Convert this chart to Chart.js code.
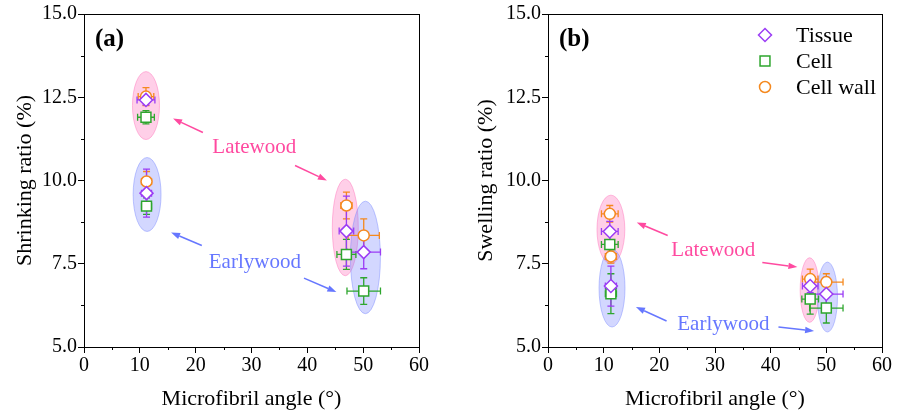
<!DOCTYPE html>
<html>
<head>
<meta charset="utf-8">
<script src="https://cdn.jsdelivr.net/npm/chart.js@4.4.0/dist/chart.umd.min.js"></script>
<style>
  html, body { margin: 0; padding: 0; background: #fff; }
  #wrap { position: relative; width: 899px; height: 415px; }
  #panelA { position: absolute; left: 0; top: 0; }
  #panelB { position: absolute; left: 449px; top: 0; }
</style>
</head>
<body>
<div id="wrap">
  <canvas id="panelA" width="449" height="415"></canvas>
  <canvas id="panelB" width="450" height="415"></canvas>
</div>
<script>
// groups: latewood / earlywood at low MFA, latewood / earlywood at high MFA
var groups = ["Latewood", "Earlywood", "Latewood", "Earlywood"];

// (a) shrinking ratio
var mfaA = [11.1, 11.2, 47.0, 50.1];
var tissueA = [12.42, 9.62, 8.48, 7.85];
var cellA = [11.9, 9.23, 7.78, 6.68];
var wallA = [12.52, 9.97, 9.25, 8.35];
var tissueAxErr = [1.6, 0.9, 1.3, 3.0];
var tissueAyErr = [0.15, 0.72, 1.05, 0.5];
var cellAxErr = [1.5, 0.9, 1.7, 3.0];
var cellAyErr = [0.2, 0.25, 0.45, 0.4];
var wallAxErr = [1.4, 0.9, 1.0, 2.8];
var wallAyErr = [0.27, 0.3, 0.4, 0.5];

// (b) swelling ratio
var mfaB = [11.1, 11.3, 47.1, 50.0];
var tissueB = [8.47, 6.83, 6.83, 6.59];
var cellB = [8.08, 6.6, 6.44, 6.17];
var wallB = [9.0, 7.72, 7.04, 6.95];
var tissueBxErr = [1.5, 1.0, 1.4, 3.0];
var tissueByErr = [0.3, 0.6, 0.2, 0.5];
var cellBxErr = [1.5, 1.0, 1.5, 3.0];
var cellByErr = [0.3, 0.6, 0.45, 0.45];
var wallBxErr = [1.5, 1.0, 1.4, 3.0];
var wallByErr = [0.25, 0.2, 0.3, 0.25];

var xTicks = [0, 10, 20, 30, 40, 50, 60];
var yTicks = [5.0, 7.5, 10.0, 12.5, 15.0];

var FONT = "'Liberation Serif', 'Times New Roman', serif";
var C_TISSUE = "#9b3cf5", C_CELL = "#2ea62e", C_WALL = "#f5891f";
var PINK = "#ff4aa0", BLUE = "#6677ff";

// ellipse groups in data units: [x, y, rx, ry]
var ellipsesA = [[11.1, 12.25, 2.42, 1.02], [11.3, 9.58, 2.5, 1.11], [46.8, 8.59, 2.33, 1.45], [50.4, 7.69, 2.69, 1.69]];
var ellipsesB = [[11.3, 8.53, 2.5, 1.03], [11.5, 6.77, 2.33, 1.17], [47.0, 6.71, 1.7, 0.97], [50.2, 6.50, 1.8, 1.05]];

// annotation arrows [x0, y0, x1, y1] (head at x1, y1) and label anchors
var arrowsA = {
  Latewood: [[21.3, 11.44, 15.95, 11.86], [37.8, 10.45, 43.5, 10.0]],
  Earlywood: [[21.1, 8.05, 15.6, 8.44], [39.4, 7.07, 45.2, 6.65]]
};
var labelsA = { Latewood: [30.5, 10.99], Earlywood: [30.6, 7.54] };
var arrowsB = {
  Latewood: [[21.5, 8.35, 15.95, 8.74], [38.5, 7.54, 44.8, 7.40]],
  Earlywood: [[21.3, 5.78, 15.8, 6.20], [41.4, 5.60, 47.8, 5.48]]
};
var labelsB = { Latewood: [29.7, 7.90], Earlywood: [31.5, 5.69] };

function points(xs, ys, xe, ye) {
  return xs.map(function (x, i) {
    return { x: x, y: ys[i], xErr: xe[i], yErr: ye[i] };
  });
}

function dataset(label, color, style, radius, pts) {
  return {
    label: label,
    data: pts,
    pointStyle: style,
    pointRadius: radius,
    pointHoverRadius: radius,
    pointBorderWidth: 1.5,
    borderColor: color,
    pointBorderColor: color,
    pointBackgroundColor: "#fff",
    backgroundColor: "#fff",
    showLine: false
  };
}

function groupColor(name, alpha) {
  return name === "Latewood" ? "rgba(255,110,185," + alpha + ")" : "rgba(120,135,255," + alpha + ")";
}

function drawArrow(ctx, x0, y0, x1, y1, color) {
  var a = Math.atan2(y1 - y0, x1 - x0), L = 9, W = 3.2;
  var bx = x1 - L * Math.cos(a), by = y1 - L * Math.sin(a);
  ctx.strokeStyle = color;
  ctx.fillStyle = color;
  ctx.lineWidth = 1.5;
  ctx.beginPath();
  ctx.moveTo(x0, y0);
  ctx.lineTo(bx, by);
  ctx.stroke();
  ctx.beginPath();
  ctx.moveTo(x1, y1);
  ctx.lineTo(bx - W * Math.sin(a), by + W * Math.cos(a));
  ctx.lineTo(bx + W * Math.sin(a), by - W * Math.cos(a));
  ctx.closePath();
  ctx.fill();
}

var decor = {
  id: "decor",
  beforeDatasetsDraw: function (chart, args, o) {
    var ctx = chart.ctx, sx = chart.scales.x, sy = chart.scales.y;
    ctx.save();
    o.ellipses.forEach(function (e, i) {
      var cx = sx.getPixelForValue(e[0]), cy = sy.getPixelForValue(e[1]);
      var rx = sx.getPixelForValue(e[0] + e[2]) - cx;
      var ry = cy - sy.getPixelForValue(e[1] + e[3]);
      ctx.beginPath();
      ctx.ellipse(cx, cy, rx, ry, 0, 0, Math.PI * 2);
      ctx.fillStyle = groupColor(groups[i], 0.33);
      ctx.fill();
      ctx.lineWidth = 1;
      ctx.strokeStyle = groupColor(groups[i], 0.45);
      ctx.stroke();
    });
    // error bars
    for (var d = chart.data.datasets.length - 1; d >= 0; d--) {
      var ds = chart.data.datasets[d];
      ctx.strokeStyle = ds.borderColor;
      ctx.lineWidth = 1.3;
      ds.data.forEach(function (p) {
        var px = sx.getPixelForValue(p.x), py = sy.getPixelForValue(p.y);
        var xl = sx.getPixelForValue(p.x - p.xErr), xr = sx.getPixelForValue(p.x + p.xErr);
        var yt = sy.getPixelForValue(p.y + p.yErr), yb = sy.getPixelForValue(p.y - p.yErr);
        ctx.beginPath();
        ctx.moveTo(xl, py); ctx.lineTo(xr, py);
        ctx.moveTo(xl, py - 3.5); ctx.lineTo(xl, py + 3.5);
        ctx.moveTo(xr, py - 3.5); ctx.lineTo(xr, py + 3.5);
        ctx.moveTo(px, yt); ctx.lineTo(px, yb);
        ctx.moveTo(px - 3.5, yt); ctx.lineTo(px + 3.5, yt);
        ctx.moveTo(px - 3.5, yb); ctx.lineTo(px + 3.5, yb);
        ctx.stroke();
      });
    }
    ctx.restore();
  },
  afterDraw: function (chart, args, o) {
    var ctx = chart.ctx, sx = chart.scales.x, sy = chart.scales.y, a = chart.chartArea;
    ctx.save();
    // frame
    ctx.strokeStyle = "#000";
    ctx.lineWidth = 1;
    ctx.strokeRect(a.left + 0.5, a.top + 0.5, a.right - a.left, a.bottom - a.top);
    // minor ticks
    ctx.beginPath();
    for (var v = 5; v < 60; v += 10) {
      var x = Math.round(sx.getPixelForValue(v)) + 0.5;
      ctx.moveTo(x, a.bottom); ctx.lineTo(x, a.bottom + 3);
    }
    for (var w = 6.25; w < 15; w += 2.5) {
      var y = Math.round(sy.getPixelForValue(w)) + 0.5;
      ctx.moveTo(a.left, y); ctx.lineTo(a.left - 3, y);
    }
    ctx.stroke();
    // arrows and labels
    Object.keys(o.arrows).forEach(function (g) {
      var col = g === "Latewood" ? PINK : BLUE;
      o.arrows[g].forEach(function (r) {
        drawArrow(ctx, sx.getPixelForValue(r[0]), sy.getPixelForValue(r[1]),
          sx.getPixelForValue(r[2]), sy.getPixelForValue(r[3]), col);
      });
      ctx.fillStyle = col;
      ctx.font = "21px " + FONT;
      ctx.textAlign = "center";
      ctx.textBaseline = "middle";
      ctx.fillText(g, sx.getPixelForValue(o.labels[g][0]), sy.getPixelForValue(o.labels[g][1]));
    });
    // panel letter
    ctx.fillStyle = "#000";
    ctx.font = "bold 25px " + FONT;
    ctx.textAlign = "left";
    ctx.textBaseline = "middle";
    ctx.fillText(o.letter, a.left + 11, a.top + 26);
    // legend
    if (o.legend) {
      chart.data.datasets.forEach(function (ds, i) {
        var ly = a.top + 21 + i * 26;
        ctx.strokeStyle = ds.borderColor;
        ctx.fillStyle = "#fff";
        ctx.lineWidth = 1.5;
        Chart.helpers.drawPoint(ctx, { pointStyle: ds.pointStyle, radius: ds.pointRadius, borderWidth: 1.5, rotation: 0 },
          a.left + 217, ly);
        ctx.fillStyle = "#000";
        ctx.font = "22px " + FONT;
        ctx.textAlign = "left";
        ctx.textBaseline = "middle";
        ctx.fillText(ds.label, a.left + 248, ly + 1);
      });
    }
    ctx.restore();
  }
};

function makeChart(id, title, mfa, t, c, w, te, c2, we, leftWidth, rightPad, titlePad, extra) {
  return new Chart(document.getElementById(id).getContext("2d"), {
    type: "scatter",
    data: {
      datasets: [
        dataset("Tissue", C_TISSUE, "rectRot", 6.5, points(mfa, t, te[0], te[1])),
        dataset("Cell", C_CELL, "rect", 7, points(mfa, c, c2[0], c2[1])),
        dataset("Cell wall", C_WALL, "circle", 5.5, points(mfa, w, we[0], we[1]))
      ]
    },
    options: {
      responsive: false,
      animation: false,
      layout: { padding: { top: 14, right: rightPad, left: 0, bottom: 0 } },
      plugins: {
        legend: { display: false },
        tooltip: { enabled: false },
        decor: extra
      },
      scales: {
        x: {
          type: "linear",
          min: 0,
          max: 60,
          afterFit: function (s) { s.height = 68; },
          afterBuildTicks: function (s) { s.ticks = xTicks.map(function (v) { return { value: v }; }); },
          ticks: { color: "#000", padding: 1, maxRotation: 0, font: { family: FONT, size: 20 } },
          grid: { drawOnChartArea: false, tickLength: 6, color: "#000" },
          border: { color: "#000", width: 1 },
          title: { display: true, text: "Microfibril angle (°)", color: "#000", font: { family: FONT, size: 22 }, padding: { top: 0, bottom: 3 } }
        },
        y: {
          type: "linear",
          min: 5,
          max: 15,
          afterFit: function (s) { s.width = leftWidth; },
          afterBuildTicks: function (s) { s.ticks = yTicks.map(function (v) { return { value: v }; }); },
          ticks: {
            color: "#000", padding: 1, font: { family: FONT, size: 20 },
            callback: function (v) { return Number(v).toFixed(1); }
          },
          grid: { drawOnChartArea: false, tickLength: 6, color: "#000" },
          border: { color: "#000", width: 1 },
          title: { display: true, text: title, color: "#000", font: { family: FONT, size: 22 }, padding: { top: titlePad, bottom: 0 } }
        }
      }
    },
    plugins: [decor]
  });
}

makeChart("panelA", "Shrinking ratio (%)", mfaA, tissueA, cellA, wallA,
  [tissueAxErr, tissueAyErr], [cellAxErr, cellAyErr], [wallAxErr, wallAyErr],
  84, 30, 12, { ellipses: ellipsesA, arrows: arrowsA, labels: labelsA, letter: "(a)", legend: false });

makeChart("panelB", "Swelling ratio (%)", mfaB, tissueB, cellB, wallB,
  [tissueBxErr, tissueByErr], [cellBxErr, cellByErr], [wallBxErr, wallByErr],
  99, 17, 24, { ellipses: ellipsesB, arrows: arrowsB, labels: labelsB, letter: "(b)", legend: true });
</script>
</body>
</html>
